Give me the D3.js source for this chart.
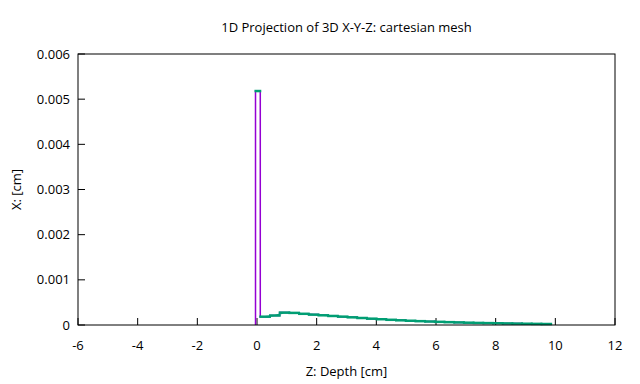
<!DOCTYPE html>
<html>
<head>
<meta charset="utf-8">
<script src="https://cdn.jsdelivr.net/npm/d3@7"></script>
<style>
  body { margin: 0; background: #fff; }
  text { font-family: "Open Sans", "Noto Sans", sans-serif; fill: #000; }
</style>
</head>
<body>
<div id="chart"></div>
<script>
// bin edges along Z (cm) and projected X values (cm)
const binEdges = [-0.05, 0.11, 0.435, 0.76, 1.085, 1.41, 1.735, 2.06, 2.385, 2.71, 3.035,
  3.36, 3.685, 4.01, 4.335, 4.66, 4.985, 5.31, 5.635, 5.96, 6.285,
  6.61, 6.935, 7.26, 7.585, 7.91, 8.235, 8.56, 8.885, 9.21, 9.535, 9.86];
const xValues = [0.00518, 0.000184, 0.00021, 0.000275, 0.000268, 0.000248, 0.00023, 0.000215,
  0.0002, 0.000185, 0.00017, 0.000155, 0.00014, 0.000128, 0.000115, 0.000104,
  0.000094, 0.000085, 0.000077, 0.00007, 0.000063, 0.000057, 0.000051, 0.000046,
  0.000042, 0.000038, 0.000034, 0.000031, 0.000028, 0.000025, 0.000022];
const xTicks = [-6, -4, -2, 0, 2, 4, 6, 8, 10, 12];
const yTicks = [0, 0.001, 0.002, 0.003, 0.004, 0.005, 0.006];

const W = 640, H = 384;
const margin = { top: 54, right: 25, bottom: 59, left: 78 };
const fs = "13px";

const svg = d3.select("#chart").append("svg")
  .attr("width", W).attr("height", H);

const x = d3.scaleLinear().domain([-6, 12]).range([margin.left, W - margin.right]);
const y = d3.scaleLinear().domain([0, 0.006]).range([H - margin.bottom, margin.top]);

const bins = xValues.map((v, i) => ({ x0: binEdges[i], x1: binEdges[i + 1], v: v }));

// ticks (inward, bottom and left only)
svg.append("g").selectAll("line").data(xTicks).join("line")
  .attr("x1", d => x(d)).attr("x2", d => x(d))
  .attr("y1", y(0)).attr("y2", y(0) - 7)
  .attr("stroke", "#000").attr("stroke-width", 1);
svg.append("g").selectAll("line").data(yTicks).join("line")
  .attr("x1", x(-6)).attr("x2", x(-6) + 7)
  .attr("y1", d => y(d)).attr("y2", d => y(d))
  .attr("stroke", "#000").attr("stroke-width", 1);

svg.append("g").selectAll("text").data(xTicks).join("text")
  .attr("x", d => x(d)).attr("y", y(0) + 25)
  .attr("text-anchor", "middle").style("font-size", fs)
  .text(d => d);
svg.append("g").selectAll("text").data(yTicks).join("text")
  .attr("x", x(-6) - 8).attr("y", d => y(d) + 4.5)
  .attr("text-anchor", "end").style("font-size", fs)
  .text(d => d === 0 ? "0" : d.toFixed(3));

// purple step histogram
const stepPts = [[bins[0].x0, 0]];
bins.forEach(b => { stepPts.push([b.x0, b.v]); stepPts.push([b.x1, b.v]); });
stepPts.push([bins[bins.length - 1].x1, 0]);
svg.append("path")
  .attr("d", d3.line().x(d => x(d[0])).y(d => y(d[1]))(stepPts))
  .attr("fill", "none").attr("stroke", "#9400d3").attr("stroke-width", 1.5);

// green: thin line through bin centres (after the spike) plus horizontal bars
svg.append("path")
  .attr("d", d3.line().x(d => x((d.x0 + d.x1) / 2)).y(d => y(d.v))(bins.slice(1)))
  .attr("fill", "none").attr("stroke", "#009e73").attr("stroke-width", 1.2);
svg.append("g").selectAll("line").data(bins).join("line")
  .attr("x1", d => x(d.x0) - 1).attr("x2", d => x(d.x1) + 1)
  .attr("y1", d => y(d.v)).attr("y2", d => y(d.v))
  .attr("stroke", "#009e73").attr("stroke-width", 2.5);

// frame
svg.append("rect")
  .attr("x", x(-6)).attr("y", y(0.006))
  .attr("width", x(12) - x(-6)).attr("height", y(0) - y(0.006))
  .attr("fill", "none").attr("stroke", "#000").attr("stroke-width", 1);

svg.append("text")
  .attr("x", (x(-6) + x(12)) / 2).attr("y", 32)
  .attr("text-anchor", "middle").style("font-size", fs)
  .text("1D Projection of 3D X-Y-Z: cartesian mesh");
svg.append("text")
  .attr("x", (x(-6) + x(12)) / 2).attr("y", 376)
  .attr("text-anchor", "middle").style("font-size", fs)
  .text("Z: Depth [cm]");
svg.append("text")
  .attr("transform", `translate(21, ${(y(0) + y(0.006)) / 2}) rotate(-90)`)
  .attr("text-anchor", "middle").style("font-size", fs)
  .text("X: [cm]");
</script>
</body>
</html>
